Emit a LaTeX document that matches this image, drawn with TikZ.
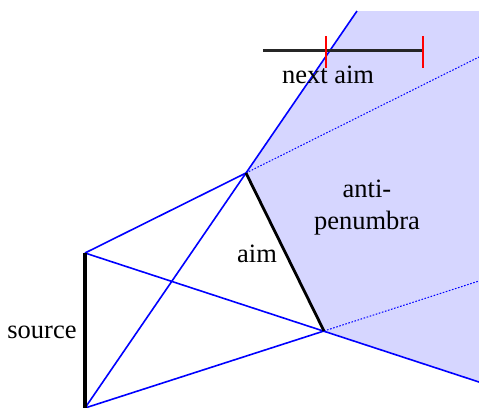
\documentclass[tikz,border=0pt]{standalone}
\usepackage{fontspec}
\setmainfont{Liberation Serif}
\definecolor{antifill}{RGB}{214,214,255}
\begin{document}
\begin{tikzpicture}[x=0.5pt,y=-0.5pt,
  ray/.style={draw=blue, line width=0.8pt},
  dotray/.style={draw=blue, dash pattern=on 0.8pt off 0.8pt, line width=0.5pt},
  lbl/.style={font=\fontsize{13.25}{16}\selectfont, inner sep=0pt, text=black},
  srcline/.style={draw=black, line width=2pt},
  aimline/.style={draw=black, line width=1.4pt},
  tick/.style={draw=red, line width=1.1pt}]
\useasboundingbox (0,0) rectangle (479,408);
% key points
\coordinate (st) at (85,253);
\coordinate (sb) at (85,408);
\coordinate (at) at (246,173);
\coordinate (ab) at (324,331);
\coordinate (ut) at (357,11);
\coordinate (tr) at (479,11);
\coordinate (br) at (479,382);
\coordinate (d1) at (479,57);
\coordinate (d2) at (479,281);
\coordinate (na1) at (263,50);
\coordinate (na2) at (423,50);
\coordinate (t1a) at (326,36);
\coordinate (t1b) at (326,68);
\coordinate (t2a) at (423,36);
\coordinate (t2b) at (423,68);
% anti-penumbra
\fill[antifill] (at) -- (ut) -- (tr) -- (br) -- (ab) -- cycle;
% rays
\draw[ray] (st) -- (at);
\draw[ray] (st) -- (br);
\draw[ray] (sb) -- (ut);
\draw[ray] (sb) -- (ab);
\draw[dotray] (at) -- (d1);
\draw[dotray] (ab) -- (d2);
% source and aim
\draw[srcline] (st) -- (sb);
\draw[aimline] (at) -- (ab);
% next aim
\draw[draw=black!85, line width=1.5pt] (na1) -- (na2);
\draw[tick] (t1a) -- (t1b);
\draw[tick] (t2a) -- (t2b);
% labels
\node[lbl, anchor=base] (lnext) at (328,83) {next aim};
\node[lbl, align=center] (lanti) at (367,208) {anti-\\penumbra};
\node[lbl, anchor=base] (laim) at (257,262) {aim};
\node[lbl, anchor=base] (lsrc) at (42,338) {source};
\end{tikzpicture}
\end{document}
